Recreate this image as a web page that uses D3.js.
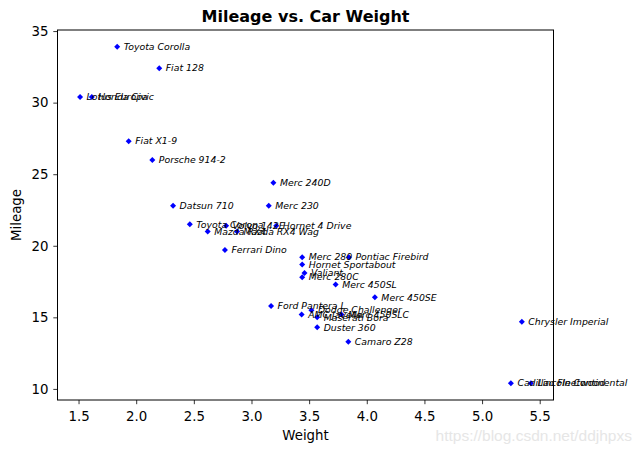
<!DOCTYPE html>
<html>
<head>
<meta charset="utf-8">
<script src="https://cdn.jsdelivr.net/npm/d3@7"></script>
<style>
body { margin: 0; background: #fff; }
svg { display: block; font-family: "DejaVu Sans", sans-serif; }
</style>
</head>
<body>
<svg id="chart" width="641" height="453"></svg>
<script>
const cars = ["Mazda RX4","Mazda RX4 Wag","Datsun 710","Hornet 4 Drive","Hornet Sportabout","Valiant","Duster 360","Merc 240D","Merc 230","Merc 280","Merc 280C","Merc 450SE","Merc 450SL","Merc 450SLC","Cadillac Fleetwood","Lincoln Continental","Chrysler Imperial","Fiat 128","Honda Civic","Toyota Corolla","Toyota Corona","Dodge Challenger","AMC Javelin","Camaro Z28","Pontiac Firebird","Fiat X1-9","Porsche 914-2","Lotus Europa","Ford Pantera L","Ferrari Dino","Maserati Bora","Volvo 142E"];
const weight = [2.620,2.875,2.320,3.215,3.440,3.460,3.570,3.190,3.150,3.440,3.440,4.070,3.730,3.780,5.250,5.424,5.345,2.200,1.615,1.835,2.465,3.520,3.435,3.840,3.845,1.935,2.140,1.513,3.170,2.770,3.570,2.780];
const mileage = [21.0,21.0,22.8,21.4,18.7,18.1,14.3,24.4,22.8,19.2,17.8,16.4,17.3,15.2,10.4,10.4,14.7,32.4,30.4,33.9,21.5,15.5,15.2,13.3,19.2,27.3,26.0,30.4,15.8,19.7,15.0,21.4];
const xTicks = [1.5,2.0,2.5,3.0,3.5,4.0,4.5,5.0,5.5];
const yTicks = [10,15,20,25,30,35];

const svg = d3.select("#chart");
const L = 57.5, R = 553.5, T = 30, B = 400;
const xmin = d3.min(weight), xmax = d3.max(weight);
const ymin = d3.min(mileage), ymax = d3.max(mileage);
const xm = (xmax - xmin) * 0.05, ym = (ymax - ymin) * 0.05;
const x = d3.scaleLinear().domain([xmin - xm, xmax + xm]).range([L, R]);
const y = d3.scaleLinear().domain([ymin - ym, ymax + ym]).range([B, T]);

// watermark
svg.append("text").attr("x", 632).attr("y", 441).attr("text-anchor", "end")
  .attr("font-family", "Liberation Sans, Arial, sans-serif").attr("font-size", 15.5)
  .attr("fill", "#e6e6e6").text("https://blog.csdn.net/ddjhpxs");

// axes
const xAxis = d3.axisBottom(x).tickValues(xTicks).tickFormat(d3.format(".1f")).tickSize(4.2).tickPadding(5);
const yAxis = d3.axisLeft(y).tickValues(yTicks).tickFormat(d3.format("d")).tickSize(4.2).tickPadding(4.8);
const gx = svg.append("g").attr("transform", `translate(0,${B})`).call(xAxis);
const gy = svg.append("g").attr("transform", `translate(${L},0)`).call(yAxis);
[gx, gy].forEach(g => {
  g.select(".domain").remove();
  g.selectAll("text").attr("font-size", 13.33).attr("font-family", "DejaVu Sans").attr("fill", "#000");
  g.selectAll("line").attr("stroke", "#000").attr("stroke-width", 0.8);
});
gx.selectAll("text").attr("dy", "0.86em");

// markers
const pts = cars.map((c, i) => ({name: c, w: weight[i], m: mileage[i]}));
svg.append("g").selectAll("path").data(pts).join("path")
  .attr("transform", d => `translate(${x(d.w)},${y(d.m)})`)
  .attr("d", "M0,-3L3,0L0,3L-3,0Z")
  .attr("fill", "#0000ff");

// labels
svg.append("g").selectAll("text").data(pts).join("text")
  .attr("x", d => x(d.w) + 6.5).attr("y", d => y(d.m) + 3.2)
  .attr("font-size", 9.33).attr("font-style", "italic").attr("fill", "#000")
  .text(d => d.name);

// frame
svg.append("rect").attr("x", L).attr("y", T).attr("width", R - L).attr("height", B - T)
  .attr("fill", "none").attr("stroke", "#000").attr("stroke-width", 1);

// titles
svg.append("text").attr("x", (L + R) / 2).attr("y", 22).attr("text-anchor", "middle")
  .attr("font-size", 16).attr("font-weight", "bold").text("Mileage vs. Car Weight");
svg.append("text").attr("x", (L + R) / 2).attr("y", 440).attr("text-anchor", "middle")
  .attr("font-size", 13.33).text("Weight");
svg.append("text").attr("transform", `translate(21,${(T + B) / 2}) rotate(-90)`).attr("text-anchor", "middle")
  .attr("font-size", 13.33).text("Mileage");
</script>
</body>
</html>
